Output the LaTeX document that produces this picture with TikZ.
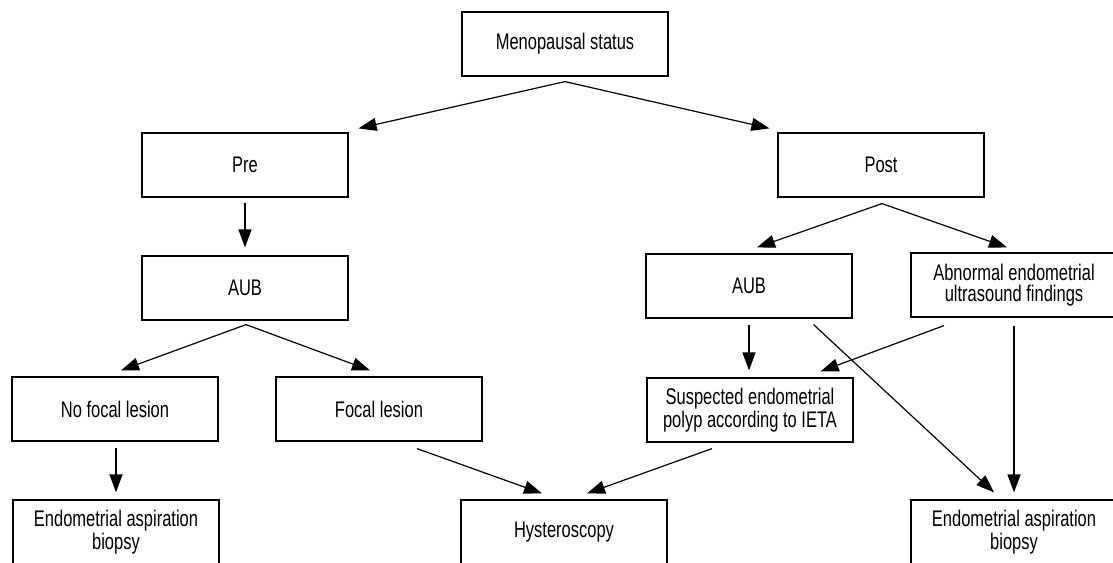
\documentclass[tikz,border=0pt]{standalone}
\usepackage{fontspec}
\setmainfont{Liberation Sans}[FakeStretch=0.73]
\usetikzlibrary{arrows.meta,calc}

\begin{document}
\begin{tikzpicture}[x=0.5pt, y=-0.5pt, line width=0.6pt,
	every node/.style={font=\fontsize{11.3}{10.2}\selectfont},
	stage/.style={draw, minimum width=103pt, minimum height=32pt, inner sep=0pt, align=center},
	flow/.style={-{Triangle[length=9pt, width=6.5pt]}}]
	\useasboundingbox (0,0) rectangle (1113,562);
	% boxes
	\node[stage] (meno) at (565,44) {Menopausal status};
	\node[stage] (pre) at (245,165) {Pre};
	\node[stage] (post) at (881,165) {Post};
	\node[stage] (aubL) at (245,288) {AUB};
	\node[stage] (aubR) at (749,286) {AUB};
	\node[stage] (abn) at (1014,285) {Abnormal endometrial\\ultrasound findings};
	\node[stage] (nofocal) at (115,409) {No focal lesion};
	\node[stage] (focal) at (379,409) {Focal lesion};
	\node[stage] (susp) at (750,410) {Suspected endometrial\\polyp according to IETA};
	\node[stage] (bioL) at (116,532) {Endometrial aspiration\\biopsy};
	\node[stage] (hyst) at (564,532) {Hysteroscopy};
	\node[stage] (bioR) at (1014,532) {Endometrial aspiration\\biopsy};
	% arrows
	\draw[flow] ($(meno.south)+(0,5)$) -- ($(pre.north east)+(10,-4)$);
	\draw[flow] ($(meno.south)+(0,5)$) -- ($(post.north west)+(-8,-4)$);
	\draw[flow] ($(pre.south)+(0,5)$) -- ($(aubL.north)+(0,-8)$);
	\draw[flow] ($(aubL.south)+(1,4)$) -- ($(nofocal.north)+(6,-6)$);
	\draw[flow] ($(aubL.south)+(1,4)$) -- ($(focal.north)+(-9,-6)$);
	\draw[flow] ($(post.south)+(1,6)$) -- ($(aubR.north)+(8,-6)$);
	\draw[flow] ($(post.south)+(1,6)$) -- ($(abn.north)+(-7,-5)$);
	\draw[flow] ($(nofocal.south)+(1,6)$) -- ($(bioL.north)+(0,-7)$);
	\draw[flow] ($(aubR.south)+(0,6)$) -- ($(susp.north)+(-1,-7)$);
	\draw[flow] ($(aubR.south east)+(-39,6)$) -- ($(bioR.north)+(-20,-7)$);
	\draw[flow] ($(abn.south)+(-70,8)$) -- ($(susp.north east)+(-33,-6)$);
	\draw[flow] ($(abn.south)+(0,8)$) -- ($(bioR.north)+(0,-7)$);
	\draw[flow] ($(focal.south)+(38,7)$) -- ($(hyst.north)+(-22,-6)$);
	\draw[flow] ($(susp.south)+(-38,6)$) -- ($(hyst.north)+(23,-6)$);
\end{tikzpicture}
\end{document}
